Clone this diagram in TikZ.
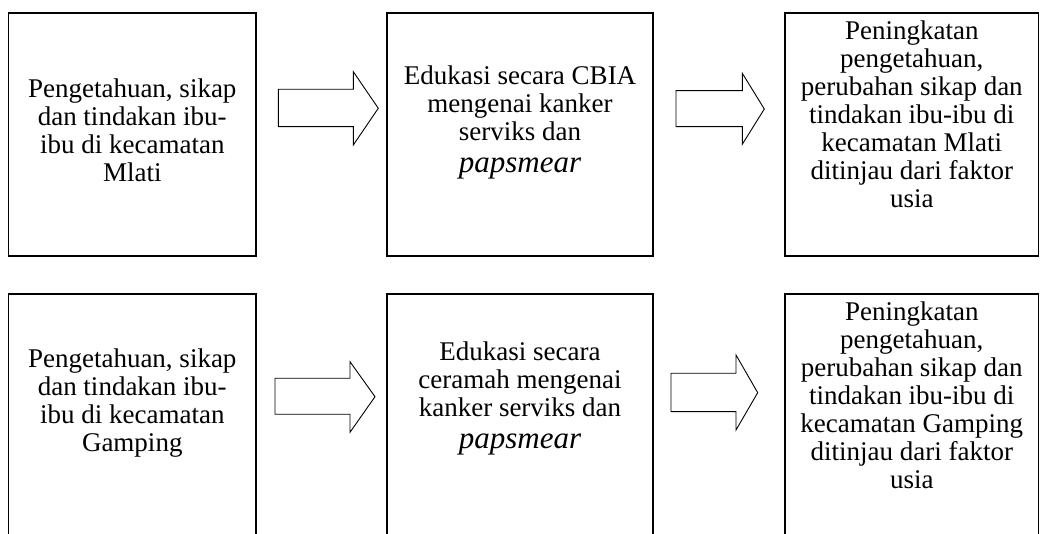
\documentclass[tikz,border=0pt]{standalone}
\usepackage{fontspec}
\setmainfont{Liberation Serif}
\usepackage{tikz}
\usetikzlibrary{positioning}

\begin{document}
\begin{tikzpicture}[x=1pt, y=1pt,
	kotak/.style={draw, line width=1.5pt, minimum width=#1, minimum height=243pt, inner sep=0pt},
	teks/.style={align=center, inner sep=0pt, font=\fontsize{27}{28}\selectfont},
	panah/.style={draw, line width=0.9pt, line join=miter}]

	\useasboundingbox (0,0) rectangle (1040,534);

	% baris atas
	\node[kotak=247.5pt] (k1) at (132.25,399.5) {};
	\node[kotak=266pt] (k2) at (520,399.5) {};
	\node[kotak=253.5pt] (k3) at (911.75,399.5) {};

	\node[teks, below=66pt of k1.north] (t1) {Pengetahuan, sikap\\dan tindakan ibu-\\ibu di kecamatan\\Mlati};
	\node[teks, below=53pt of k2.north] (t2) {Edukasi secara CBIA\\mengenai kanker\\serviks dan\\[4pt]{\fontsize{31}{32}\selectfont\itshape papsmear}};
	\node[teks, below=8pt of k3.north] (t3) {Peningkatan\\pengetahuan,\\perubahan sikap dan\\tindakan ibu-ibu di\\kecamatan Mlati\\ditinjau dari faktor\\usia};

	\draw[panah] (278.3,444.7) -- (353.3,444.7) -- (353.3,462.3) -- (378.3,425.7) -- (353.3,389) -- (353.3,407.3) -- (278.3,407.3) -- cycle;
	\draw[panah] (676,443.3) -- (742.3,443.3) -- (742.3,460.7) -- (764.3,425) -- (742.3,389.7) -- (742.3,407.3) -- (676,407.3) -- cycle;

	% baris bawah
	\node[kotak=247.5pt] (k4) at (132.25,118.5) {};
	\node[kotak=266pt] (k5) at (520,118.5) {};
	\node[kotak=253.5pt] (k6) at (911.75,118.5) {};

	\node[teks, below=55pt of k4.north] (t4) {Pengetahuan, sikap\\dan tindakan ibu-\\ibu di kecamatan\\Gamping};
	\node[teks, below=48pt of k5.north] (t5) {Edukasi secara\\ceramah mengenai\\kanker serviks dan\\[4pt]{\fontsize{31}{32}\selectfont\itshape papsmear}};
	\node[teks, below=8pt of k6.north] (t6) {Peningkatan\\pengetahuan,\\perubahan sikap dan\\tindakan ibu-ibu di\\kecamatan Gamping\\ditinjau dari faktor\\usia};

	\draw[panah] (275,155.7) -- (350,155.7) -- (350,172.3) -- (375,137.3) -- (350,101.7) -- (350,119.7) -- (275,119.7) -- cycle;
	\draw[panah] (671,160.7) -- (736,160.7) -- (736,179) -- (757.7,141.3) -- (736,104) -- (736,122.3) -- (671,122.3) -- cycle;

\end{tikzpicture}
\end{document}
